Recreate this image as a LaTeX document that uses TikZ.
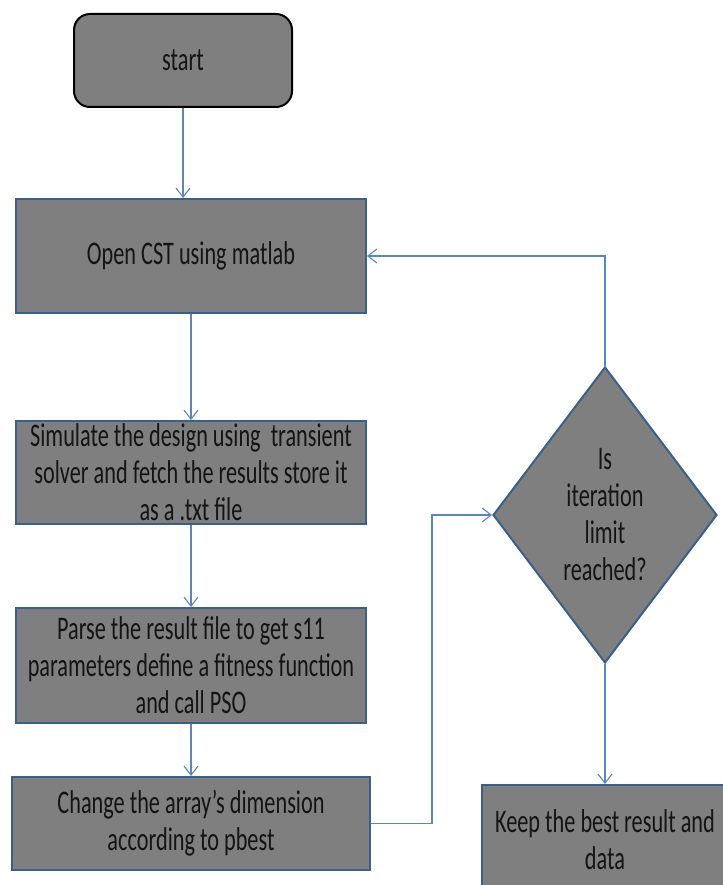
\documentclass[tikz,border=0pt]{standalone}
\usepackage{fontspec}
\newfontfamily\condfont[FakeStretch=0.675]{Carlito}
\usetikzlibrary{shapes.geometric,arrows.meta}
\definecolor{boxfill}{HTML}{7F7F7F}
\definecolor{boxline}{HTML}{3A5F8B}
\definecolor{conn}{HTML}{5A86C0}
\definecolor{txt}{HTML}{141414}
\begin{document}
\begin{tikzpicture}[x=1pt,y=-1pt,
  every node/.style={font=\condfont\fontsize{33}{37}\selectfont, text=txt, align=center, inner sep=0pt},
  procbox/.style={draw=boxline, line width=2pt, fill=boxfill, rectangle},
  startbox/.style={draw=black, line width=2pt, fill=boxfill, rectangle, rounded corners=16pt},
  decbox/.style={draw=boxline, line width=2pt, fill=boxfill, diamond},
  flow/.style={draw=conn, line width=1.1pt, -{Straight Barb[length=9pt,width=14pt,line width=1.1pt]}}
]
\useasboundingbox (0,0) rectangle (722,885);
\node[startbox, minimum width=218pt, minimum height=93pt] (start) at (183,60.5) {start};
\node[procbox, minimum width=350pt, minimum height=114pt] (open) at (191,256) {Open CST using matlab};
\node[procbox, minimum width=350pt, minimum height=103pt] (sim) at (191,472.5) {Simulate the design using\ \ transient\\solver and fetch the results store it\\as a .txt file};
\node[procbox, minimum width=350pt, minimum height=115pt] (parse) at (191,665.5) {Parse the result file to get s11\\parameters define a fitness function\\and call PSO};
\node[procbox, minimum width=358pt, minimum height=93pt] (change) at (191,823.5) {Change the array’s dimension\\according to pbest};
\node[decbox, minimum width=224pt, minimum height=296pt] (dia) at (605,515) {Is\\iteration\\limit\\reached?};
\node[procbox, minimum width=246pt, minimum height=110pt] (keep) at (605,840) {Keep the best result and\\data};
\coordinate (j1) at (432,0);
\draw[flow] (start.south) -- (start.south |- open.north);
\draw[flow] (open.south) -- (sim.north);
\draw[flow] (sim.south) -- (parse.north);
\draw[flow] (parse.south) -- (change.north);
\draw[flow] (change.east) -- (change.east -| j1) |- (dia.west);
\draw[flow] (dia.north) |- (open.east);
\draw[flow] (dia.south) -- (keep.north);
\end{tikzpicture}
\end{document}
